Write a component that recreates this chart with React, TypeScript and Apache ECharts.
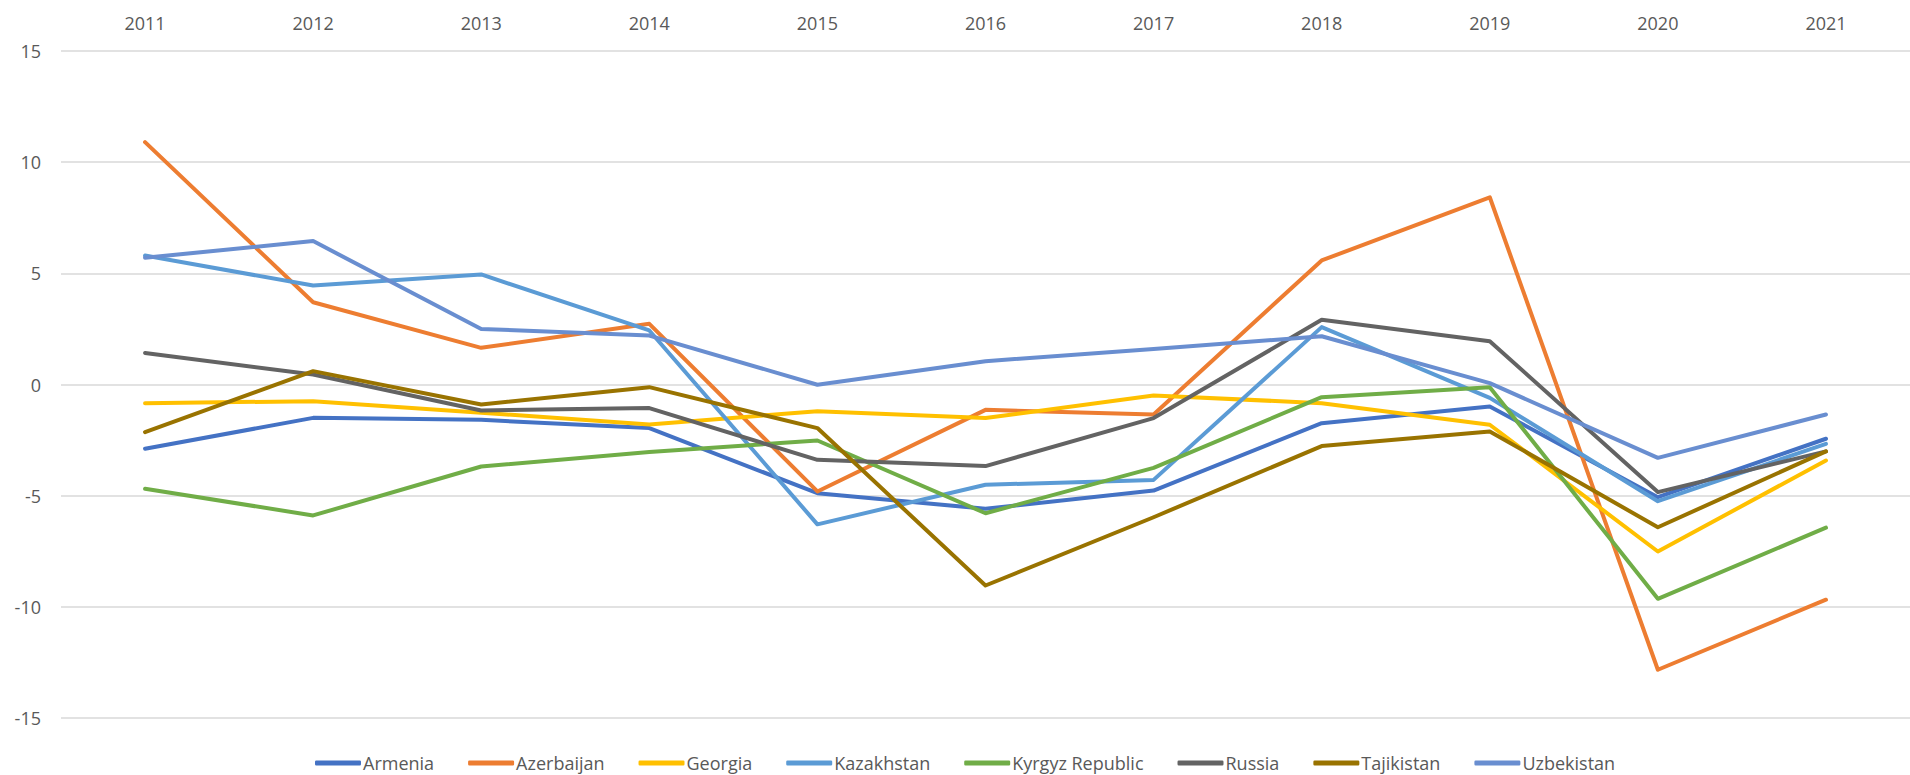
import React, { useEffect, useRef } from "react";
import * as echarts from "echarts";

const years = ["2011", "2012", "2013", "2014", "2015", "2016", "2017", "2018", "2019", "2020", "2021"];

const armenia = [-2.89, -1.5, -1.59, -1.96, -4.89, -5.59, -4.77, -1.74, -0.99, -5.07, -2.44];
const azerbaijan = [10.9, 3.7, 1.65, 2.73, -4.81, -1.14, -1.35, 5.58, 8.42, -12.83, -9.68];
const georgia = [-0.84, -0.75, -1.27, -1.8, -1.2, -1.51, -0.49, -0.84, -1.81, -7.51, -3.42];
const kazakhstan = [5.8, 4.45, 4.95, 2.43, -6.29, -4.51, -4.29, 2.58, -0.6, -5.25, -2.67];
const kyrgyz = [-4.69, -5.89, -3.69, -3.04, -2.52, -5.79, -3.75, -0.57, -0.12, -9.64, -6.44];
const russia = [1.42, 0.45, -1.17, -1.06, -3.39, -3.67, -1.51, 2.91, 1.95, -4.84, -3.01];
const tajikistan = [-2.14, 0.6, -0.9, -0.12, -1.96, -9.04, -5.97, -2.77, -2.11, -6.42, -3.01];
const uzbekistan = [5.7, 6.45, 2.5, 2.2, -0.01, 1.05, 1.6, 2.17, 0.06, -3.3, -1.35];

const seriesNames = ["Armenia", "Azerbaijan", "Georgia", "Kazakhstan", "Kyrgyz Republic", "Russia", "Tajikistan", "Uzbekistan"];
const seriesData = [armenia, azerbaijan, georgia, kazakhstan, kyrgyz, russia, tajikistan, uzbekistan];
const seriesColors = ["#4472C4", "#ED7D31", "#FFC000", "#5B9BD5", "#70AD47", "#636363", "#997300", "#698ED0"];

const yMin = -15;
const yMax = 15;
const yStep = 5;

const FONT = "'Open Sans', 'Noto Sans', sans-serif";

export default function App() {
  const ref = useRef<HTMLDivElement>(null);

  useEffect(() => {
    document.body.style.margin = "0";
    if (!ref.current) return;
    const chart = echarts.init(ref.current, null, { renderer: "svg" });
    chart.setOption({
      animation: false,
      backgroundColor: "#ffffff",
      textStyle: { fontFamily: FONT },
      grid: { left: 61, right: 0, top: 51, bottom: 57, containLabel: false },
      legend: {
        left: 315,
        top: 752,
        padding: 0,
        icon: "roundRect",
        itemWidth: 46,
        itemHeight: 5,
        itemGap: 34,
        textStyle: { color: "#595959", fontSize: 18, lineHeight: 22, fontFamily: FONT, padding: [0, 0, 0, -3] },
        data: seriesNames,
      },
      xAxis: {
        type: "category",
        position: "top",
        data: years,
        boundaryGap: true,
        axisLine: { show: false },
        axisTick: { show: false },
        axisLabel: {
          color: "#595959",
          fontSize: 18,
          fontFamily: FONT,
          margin: 28,
          verticalAlign: "middle",
        },
        splitLine: { show: false },
      },
      yAxis: {
        type: "value",
        min: yMin,
        max: yMax,
        interval: yStep,
        axisLine: { show: false },
        axisTick: { show: false },
        axisLabel: { color: "#595959", fontSize: 18, fontFamily: FONT, margin: 20 },
        splitLine: { lineStyle: { color: "#D9D9D9", width: 1.5 } },
      },
      series: seriesNames.map((name, i) => ({
        name,
        type: "line",
        data: seriesData[i],
        symbol: "none",
        color: seriesColors[i],
        lineStyle: { color: seriesColors[i], width: 4, cap: "round", join: "round" },
      })),
    });
    return () => chart.dispose();
  }, []);

  return <div ref={ref} style={{ position: "absolute", left: 0, top: 0, width: 1910, height: 775 }} />;
}
